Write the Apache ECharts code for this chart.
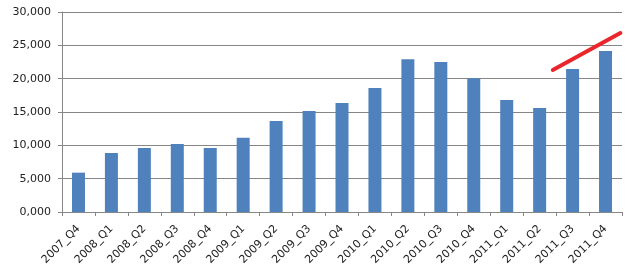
<!DOCTYPE html>
<html><head><meta charset="utf-8">
<script src="https://cdn.jsdelivr.net/npm/echarts@6/dist/echarts.min.js"></script>
<style>html,body{margin:0;padding:0;background:#fff}#c{width:629px;height:277px}</style>
</head><body><div id="c"></div>
<script>
const categories = ['2007_Q4','2008_Q1','2008_Q2','2008_Q3','2008_Q4','2009_Q1','2009_Q2','2009_Q3','2009_Q4','2010_Q1','2010_Q2','2010_Q3','2010_Q4','2011_Q1','2011_Q2','2011_Q3','2011_Q4'];
const values = [5900, 8850, 9600, 10200, 9600, 11150, 13650, 15150, 16350, 18600, 22900, 22500, 20050, 16800, 15600, 21450, 24150];
const yTickLabels = ['0,000','5,000','10,000','15,000','20,000','25,000','30,000'];
// hand-drawn trend stroke: [category position, value]
const trendLine = [[14.9, 21300], [16.95, 26850]];

const chart = echarts.init(document.getElementById('c'));
const font = 'DejaVu Sans';
chart.setOption({
  animation: false,
  grid: {left: 62, right: 7, top: 12, bottom: 65, outerBoundsMode: 'none'},
  xAxis: [{
    type: 'category', data: categories,
    axisLine: {lineStyle: {color: '#868686'}},
    axisTick: {show: true, length: 4, alignWithLabel: false, lineStyle: {color: '#868686'}},
    axisLabel: {rotate: 45, interval: 0, margin: 15, color: '#222', fontFamily: font, fontSize: 11}
  }, {
    type: 'value', min: 0, max: 17, show: false
  }],
  yAxis: {
    type: 'value', min: 0, max: 30000, interval: 5000,
    axisLine: {show: true, lineStyle: {color: '#868686'}},
    axisTick: {show: true, length: 4, lineStyle: {color: '#868686'}},
    splitLine: {lineStyle: {color: '#868686'}},
    axisLabel: {margin: 11, color: '#222', fontFamily: font, fontSize: 11,
      formatter: (v) => yTickLabels[Math.round(v / 5000)]}
  },
  series: [{
    type: 'bar', data: values, barWidth: 13,
    itemStyle: {color: '#4F81BD'}
  }, {
    type: 'line', xAxisIndex: 1, data: trendLine, symbol: 'none',
    lineStyle: {color: '#E8262B', width: 4, cap: 'round'}
  }]
});
</script></body></html>
